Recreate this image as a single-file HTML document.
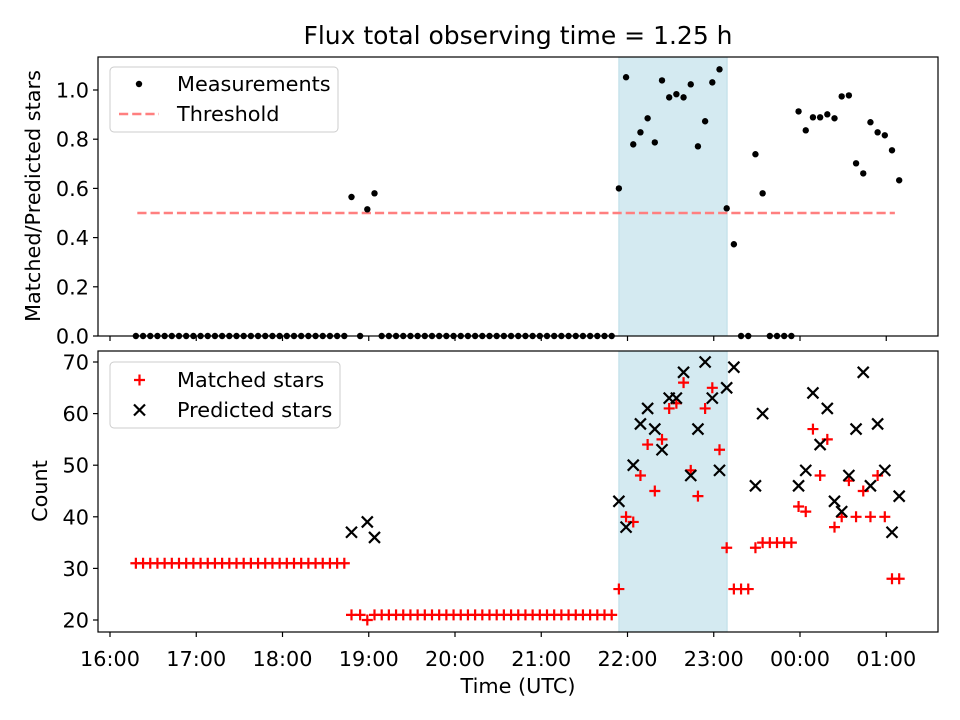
<!DOCTYPE html>
<html><head><meta charset="utf-8"><style>
html,body{margin:0;padding:0;background:#fff;}
svg{display:block;font-family:"DejaVu Sans","Liberation Sans",sans-serif;}
</style></head><body>
<svg id="chart" width="960" height="720" viewBox="0 0 960 720" xmlns="http://www.w3.org/2000/svg">
<rect width="960" height="720" fill="#fff"/>
<text x="518" y="44" font-size="25" text-anchor="middle">Flux total observing time = 1.25 h</text>
<g id="gtop"></g>
<g id="gbot"></g>
<text x="518" y="693" font-size="20.8" text-anchor="middle">Time (UTC)</text>
<text transform="translate(40,196) rotate(-90)" font-size="20.8" text-anchor="middle">Matched/Predicted stars</text>
<text transform="translate(47,491) rotate(-90)" font-size="20.8" text-anchor="middle">Count</text>
</svg>
<script>
// minutes after 16:00 UTC
const times = [18,23,28,33,38,43,48,53,58,63,68,73,78,83,88,93,98,103,108,113,118,123,128,133,138,143,148,153,158,163,
168,174,179,184,
189,194,199,204,209,214,219,224,229,234,239,244,249,254,259,264,269,274,279,284,289,294,299,304,309,314,319,324,329,334,339,344,349,
354,359,364,369,374,379,384,389,394,399,404,409,414,419,424,429,434,439,444,449,454,459,464,469,474,479,484,489,494,499,504,509,514,519,524,529,534,539,544,549];
const matched = [31,31,31,31,31,31,31,31,31,31,31,31,31,31,31,31,31,31,31,31,31,31,31,31,31,31,31,31,31,31,
21,21,20,21,
21,21,21,21,21,21,21,21,21,21,21,21,21,21,21,21,21,21,21,21,21,21,21,21,21,21,21,21,21,21,21,21,21,
26,40,39,48,54,45,55,61,62,66,49,44,61,65,53,34,26,26,26,34,35,35,35,35,35,42,41,57,48,55,38,40,47,40,45,40,48,40,28,28];
const predicted = [null,null,null,null,null,null,null,null,null,null,null,null,null,null,null,null,null,null,null,null,null,null,null,null,null,null,null,null,null,null,
37,null,39,36,
null,null,null,null,null,null,null,null,null,null,null,null,null,null,null,null,null,null,null,null,null,null,null,null,null,null,null,null,null,null,null,null,null,
43,38,50,58,61,57,53,63,63,68,48,57,70,63,49,65,69,null,null,46,60,null,null,null,null,46,49,64,54,61,43,41,48,57,68,46,58,49,37,44];
const ratio = [0,0,0,0,0,0,0,0,0,0,0,0,0,0,0,0,0,0,0,0,0,0,0,0,0,0,0,0,0,0,
0.565,0,0.515,0.58,
0,0,0,0,0,0,0,0,0,0,0,0,0,0,0,0,0,0,0,0,0,0,0,0,0,0,0,0,0,0,0,0,0,
0.60,1.052,0.779,0.828,0.885,0.787,1.039,0.970,0.983,0.970,1.023,0.771,0.873,1.031,1.084,0.519,0.373,0,0,0.739,0.580,0,0,0,0,0.913,0.836,0.889,0.889,0.901,0.885,0.974,0.978,0.702,0.661,0.869,0.828,0.816,0.755,0.633];
const threshold = 0.5;
const thresholdRange = [19, 546];
const span = [354, 429.3];
const xTicks = [0,60,120,180,240,300,360,420,480,540];
const xTickLabels = ["16:00","17:00","18:00","19:00","20:00","21:00","22:00","23:00","00:00","01:00"];
const ratioTicks = [0,0.2,0.4,0.6,0.8,1.0];
const countTicks = [20,30,40,50,60,70];

const NS = "http://www.w3.org/2000/svg";
const L = 98, R = 938;
const xS = m => 110 + m * 1.4375;
const yTop = v => 336 - v * 246;
const yBot = v => 620 - (v - 20) * 5.16;
function mk(tag, attrs, parent) {
  const e = document.createElementNS(NS, tag);
  for (const k in attrs) e.setAttribute(k, attrs[k]);
  parent.appendChild(e);
  return e;
}
const gTop = document.getElementById('gtop');
const gBot = document.getElementById('gbot');

function axes(g, y0, y1, yScale, ticks, fmt, showX) {
  let s = mk('rect', {x: xS(span[0]), y: y0, width: xS(span[1]) - xS(span[0]), height: y1 - y0, fill: '#d4eaf1', stroke: '#bcdde7', 'stroke-width': 1}, g);
  
  
  ticks.forEach(t => {
    const y = yScale(t);
    let tk = mk('line', {x1: L - 5, x2: L, y1: y, y2: y, stroke: '#000', 'stroke-width': 1.2}, g);
    
    
    let tl = mk('text', {x: L - 9, y: y + 7.5, 'font-size': 20.8, 'text-anchor': 'end'}, g);
    tl.textContent = fmt(t);
    
    
  });
  xTicks.forEach((t, i) => {
    const x = xS(t);
    let tk = mk('line', {x1: x, x2: x, y1: y1, y2: y1 + 5, stroke: '#000', 'stroke-width': 1.2}, g);
    
    
    if (showX) {
      let tl = mk('text', {x: x, y: y1 + 34, 'font-size': 20.8, 'text-anchor': 'middle'}, g);
      tl.textContent = xTickLabels[i];
      
      
    }
  });
}
axes(gTop, 57, 336, yTop, ratioTicks, v => v.toFixed(1), false);
axes(gBot, 351, 632, yBot, countTicks, v => String(v), true);

let th = mk('line', {x1: xS(thresholdRange[0]), x2: xS(thresholdRange[1]), y1: yTop(threshold), y2: yTop(threshold), stroke: '#ff7f7f', 'stroke-width': 2.5, 'stroke-dasharray': '9.2,4'}, gTop);



times.forEach((t, i) => {
  const x = xS(t);
  let d = mk('circle', {cx: x, cy: yTop(ratio[i]), r: 3.2, fill: '#000'}, gTop);
  
  
});
times.forEach((t, i) => {
  const x = xS(t), y = yBot(matched[i]);
  let p = mk('path', {d: `M${x-5.5},${y}H${x+5.5}M${x},${y-5.5}V${y+5.5}`, stroke: '#f00', 'stroke-width': 2.2, fill: 'none'}, gBot);
  
  
});
times.forEach((t, i) => {
  if (predicted[i] === null) return;
  const x = xS(t), y = yBot(predicted[i]);
  let p = mk('path', {d: `M${x-5.5},${y-5.5}L${x+5.5},${y+5.5}M${x-5.5},${y+5.5}L${x+5.5},${y-5.5}`, stroke: '#000', 'stroke-width': 2.2, fill: 'none'}, gBot);
  
  
});

let f1 = mk('rect', {x: L, y: 57, width: R - L, height: 279, fill: 'none', stroke: '#000', 'stroke-width': 1.2}, gTop);


let f2 = mk('rect', {x: L, y: 351, width: R - L, height: 281, fill: 'none', stroke: '#000', 'stroke-width': 1.2}, gBot);



function legend(g, x, y, w, h, name) {
  let b = mk('rect', {x: x, y: y, width: w, height: h, rx: 4, fill: '#fff', 'fill-opacity': 0.8, stroke: '#ccc', 'stroke-width': 1}, g);
  
  
}
legend(gTop, 110, 67, 228, 65, 'ratio-legend');
let ld = mk('circle', {cx: 139, cy: 84, r: 3.2, fill: '#000'}, gTop);


let lt1 = mk('text', {x: 177, y: 91, 'font-size': 20.8}, gTop);
lt1.textContent = 'Measurements';


let ll = mk('line', {x1: 119, x2: 159, y1: 114, y2: 114, stroke: '#ff7f7f', 'stroke-width': 2.5, 'stroke-dasharray': '9.2,4'}, gTop);


let lt2 = mk('text', {x: 177, y: 121, 'font-size': 20.8}, gTop);
lt2.textContent = 'Threshold';



legend(gBot, 110, 362, 230, 66, 'count-legend');
let lm = mk('path', {d: 'M134,380H145M139.5,374.5V385.5', stroke: '#f00', 'stroke-width': 2.2}, gBot);


let lt3 = mk('text', {x: 177, y: 387, 'font-size': 20.8}, gBot);
lt3.textContent = 'Matched stars';


let lp = mk('path', {d: 'M134,404.5L145,415.5M134,415.5L145,404.5', stroke: '#000', 'stroke-width': 2.2}, gBot);


let lt4 = mk('text', {x: 177, y: 417, 'font-size': 20.8}, gBot);
lt4.textContent = 'Predicted stars';


</script>
</body></html>
